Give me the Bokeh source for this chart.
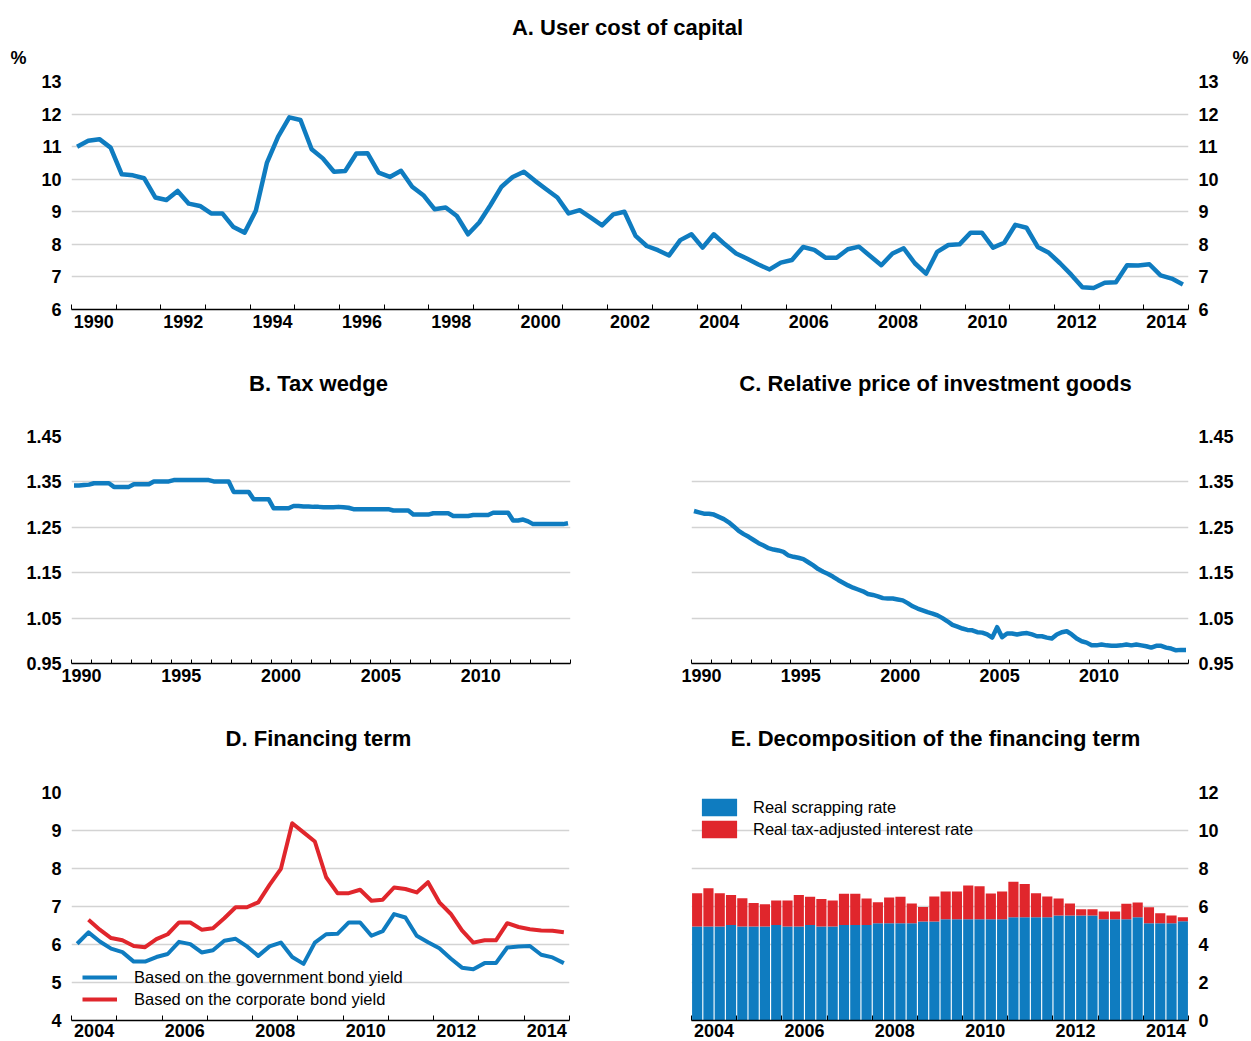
from bokeh.plotting import figure
from bokeh.models import (Range1d, FixedTicker, LinearAxis, Label, Legend, LegendItem,
                          PrintfTickFormatter)
from bokeh.layouts import column, row
from bokeh.embed import file_html
from bokeh.resources import INLINE

FONT = "Liberation Sans"
BLUE = "#0f7cc0"
RED = "#e0262c"
GRID = "#d3d3d3"

# ---------------- data ----------------
# A. User cost of capital, %, quarterly 1990Q1-2014Q4
A_user_cost = [
    11.00, 11.18, 11.23, 10.97,  10.15, 10.12, 10.03, 9.44,   9.36, 9.64, 9.25, 9.18,
    8.95, 8.95, 8.53, 8.36,      9.03, 10.51, 11.31, 11.90,   11.82, 10.92, 10.64, 10.23,
    10.25, 10.79, 10.80, 10.20,  10.07, 10.26, 9.77, 9.51,    9.08, 9.13, 8.87, 8.31,
    8.67, 9.20, 9.77, 10.07,     10.23, 9.95, 9.69, 9.44,     8.95, 9.05, 8.82, 8.58,
    8.92, 9.00, 8.26, 7.95,      7.82, 7.66, 8.13, 8.31,      7.90, 8.31, 8.00, 7.72,
    7.56, 7.38, 7.23, 7.44,      7.52, 7.92, 7.83, 7.59,      7.59, 7.85, 7.93, 7.64,
    7.36, 7.72, 7.88, 7.42,      7.10, 7.77, 7.98, 8.00,      8.36, 8.36, 7.90, 8.05,
    8.60, 8.51, 7.92, 7.74,      7.42, 7.07, 6.68, 6.66,      6.82, 6.84, 7.36, 7.35,
    7.39, 7.05, 6.95, 6.77,
]
A_start_year = 1990

# B. Tax wedge, quarterly 1990Q1-2014Q4
B_tax_wedge = [
    1.342, 1.342, 1.343, 1.344,  1.347, 1.347, 1.347, 1.347,  1.339, 1.339, 1.339, 1.339,
    1.345, 1.345, 1.345, 1.345,  1.351, 1.351, 1.351, 1.351,  1.354, 1.354, 1.354, 1.354,
    1.354, 1.354, 1.354, 1.354,  1.351, 1.351, 1.351, 1.351,  1.328, 1.328, 1.328, 1.328,
    1.312, 1.312, 1.312, 1.312,  1.292, 1.292, 1.292, 1.292,  1.297, 1.297, 1.296, 1.296,
    1.295, 1.295, 1.294, 1.294,  1.294, 1.295, 1.294, 1.293,  1.290, 1.290, 1.290, 1.290,
    1.290, 1.290, 1.290, 1.290,  1.287, 1.287, 1.287, 1.287,  1.278, 1.278, 1.278, 1.278,
    1.281, 1.281, 1.281, 1.281,  1.275, 1.275, 1.275, 1.275,  1.277, 1.277, 1.277, 1.277,
    1.282, 1.282, 1.282, 1.282,  1.265, 1.265, 1.267, 1.263,  1.257, 1.257, 1.257, 1.257,
    1.257, 1.257, 1.257, 1.259,
]

# C. Relative price of investment goods, quarterly 1990Q1-2014Q4
C_rel_price = [
    1.286, 1.283, 1.280, 1.280,  1.278, 1.273, 1.268, 1.261,  1.252, 1.242, 1.235, 1.229,
    1.222, 1.215, 1.210, 1.204,  1.201, 1.199, 1.196, 1.188,  1.185, 1.183, 1.180, 1.173,
    1.166, 1.158, 1.152, 1.147,  1.141, 1.134, 1.128, 1.122,  1.117, 1.113, 1.109, 1.103,
    1.101, 1.098, 1.094, 1.093,  1.093, 1.091, 1.089, 1.083,  1.076, 1.071, 1.067, 1.063,
    1.060, 1.056, 1.050, 1.043,  1.035, 1.031, 1.027, 1.024,  1.023, 1.019, 1.018, 1.014,
    1.007, 1.030, 1.008, 1.016,  1.016, 1.014, 1.016, 1.017,  1.014, 1.010, 1.010, 1.007,
    1.005, 1.014, 1.019, 1.021,  1.014, 1.005, 0.999, 0.996,  0.990, 0.990, 0.992, 0.990,
    0.989, 0.989, 0.990, 0.992,  0.990, 0.992, 0.990, 0.988,  0.985, 0.989, 0.989, 0.985,
    0.983, 0.979, 0.980, 0.980,
]

# D. Financing term, %, quarterly 2004Q1-2014Q4
D_start_year = 2004
D_gov = [
    6.02, 6.32, 6.08, 5.89,  5.80, 5.55, 5.55, 5.67,  5.75, 6.07, 6.01, 5.79,
    5.85, 6.10, 6.15, 5.95,  5.70, 5.95, 6.05, 5.67,  5.49, 6.05, 6.27, 6.28,
    6.58, 6.58, 6.23, 6.35,  6.80, 6.71, 6.23, 6.06,  5.90, 5.63, 5.39, 5.35,
    5.51, 5.51, 5.92, 5.95,  5.96, 5.73, 5.66, 5.51,
]
D_corp = [
    float("nan"), 6.65, 6.39, 6.17,  6.11, 5.96, 5.93, 6.14,  6.27, 6.58, 6.58, 6.39,
    6.43, 6.69, 6.98, 6.98,  7.11, 7.57, 7.99, 9.19,  8.95, 8.71, 7.77, 7.35,
    7.35, 7.44, 7.15, 7.18,  7.50, 7.46, 7.37, 7.64,  7.11, 6.81, 6.37, 6.05,
    6.11, 6.11, 6.56, 6.46,  6.40, 6.37, 6.36, 6.32,
]

# E. Decomposition of the financing term, quarterly 2004Q1-2014Q4
E_scrap = [
    4.95, 4.95, 4.95, 5.03,  4.95, 4.95, 4.95, 5.03,  4.95, 4.95, 5.03, 4.95,
    4.95, 5.03, 5.03, 5.03,  5.12, 5.12, 5.12, 5.12,  5.21, 5.21, 5.33, 5.33,
    5.33, 5.33, 5.33, 5.33,  5.44, 5.44, 5.44, 5.44,  5.53, 5.53, 5.53, 5.53,
    5.33, 5.33, 5.33, 5.44,  5.12, 5.12, 5.12, 5.23,
]
E_interest = [
    1.75, 2.01, 1.75, 1.57,  1.49, 1.23, 1.17, 1.29,  1.37, 1.65, 1.48, 1.45,
    1.37, 1.64, 1.64, 1.39,  1.11, 1.35, 1.39, 1.04,  0.77, 1.32, 1.46, 1.46,
    1.77, 1.74, 1.35, 1.46,  1.86, 1.74, 1.26, 1.09,  0.89, 0.63, 0.33, 0.33,
    0.41, 0.41, 0.81, 0.77,  0.84, 0.53, 0.41, 0.21,
]

A_xlabels = ["1990", "1992", "1994", "1996", "1998", "2000", "2002",
             "2004", "2006", "2008", "2010", "2012", "2014"]
BC_xlabels = ["1990", "1995", "2000", "2005", "2010"]
DE_xlabels = ["2004", "2006", "2008", "2010", "2012", "2014"]
A_yticks = [6, 7, 8, 9, 10, 11, 12, 13]
BC_yticks = [0.95, 1.05, 1.15, 1.25, 1.35, 1.45]
D_yticks = [4, 5, 6, 7, 8, 9, 10]
E_yticks = [0, 2, 4, 6, 8, 10, 12]

titles = ["A. User cost of capital", "B. Tax wedge",
          "C. Relative price of investment goods", "D. Financing term",
          "E. Decomposition of the financing term"]
unit_label = "%"


def qx(start, n):
    return [start + (i + 0.5) / 4 for i in range(n)]


# ---------------- layout constants (page pixels) ----------------
LB, RB = 71, 62          # left / right borders shared by every figure in the column
FULL_W = 1117            # frame width of the full-width rows


def make_fig(xr, yr, fw, fh, bl, br, bt, bb, yside):
    p = figure(frame_width=fw, frame_height=fh,
               x_range=Range1d(*xr), y_range=Range1d(*yr),
               x_axis_location="below", y_axis_location=yside,
               min_border_left=bl, min_border_right=br,
               min_border_top=bt, min_border_bottom=bb,
               output_backend="svg", toolbar_location=None)
    p.outline_line_color = None
    p.background_fill_color = "white"
    p.border_fill_color = "white"
    p.xgrid.visible = False
    p.ygrid.grid_line_color = GRID
    p.ygrid.grid_line_width = 1.5
    return p


def make_strip(top, h, with_axes=False):
    # data coordinates of the strip equal page pixel coordinates
    s = figure(frame_width=FULL_W, frame_height=h,
               x_range=Range1d(LB, LB + FULL_W), y_range=Range1d(top + h, top),
               x_axis_location=None, y_axis_location="left" if with_axes else None,
               min_border_left=LB, min_border_right=RB,
               min_border_top=0, min_border_bottom=0,
               output_backend="svg", toolbar_location=None)
    s.outline_line_color = None
    s.background_fill_color = "white"
    s.border_fill_color = "white"
    s.grid.visible = False
    return s


def style_xaxis(ax, labels, x0, x1, tick_len, standoff=5):
    ticks = [int(s) + 0.5 for s in labels]
    ax.ticker = FixedTicker(ticks=ticks, minor_ticks=list(range(x0, x1 + 1)))
    ax.major_label_overrides = {t: s for t, s in zip(ticks, labels)}
    ax.major_tick_in = 0
    ax.major_tick_out = 0
    ax.minor_tick_in = tick_len
    ax.minor_tick_out = 0
    ax.minor_tick_line_color = "black"
    ax.minor_tick_line_width = 1
    ax.axis_line_color = "black"
    ax.axis_line_width = 1.5
    ax.major_label_standoff = standoff
    ax.major_label_text_font = FONT
    ax.major_label_text_font_size = "18px"
    ax.major_label_text_font_style = "bold"
    ax.major_label_text_color = "black"


def style_yaxis(ax, ticks, fmt=None, standoff=10):
    ax.ticker = FixedTicker(ticks=ticks)
    ax.axis_line_color = None
    ax.major_tick_line_color = None
    ax.minor_tick_line_color = None
    ax.major_tick_in = 0
    ax.major_tick_out = 0
    ax.minor_tick_in = 0
    ax.minor_tick_out = 0
    ax.major_label_standoff = standoff
    ax.major_label_text_font = FONT
    ax.major_label_text_font_size = "18px"
    ax.major_label_text_font_style = "bold"
    ax.major_label_text_color = "black"
    if fmt:
        ax.formatter = PrintfTickFormatter(format=fmt)


def add_title(p, x, y, text):
    p.add_layout(Label(x=x, y=y, text=text, text_align="center", text_baseline="middle",
                       text_font=FONT, text_font_size="22px", text_font_style="bold",
                       text_color="black"))


# ---------------- title strips ----------------
stripA = make_strip(0, 69, with_axes=True)
add_title(stripA, 627, 27, titles[0])
# the "%" unit sits as a single labelled tick on each side of the top strip
unit_y = 57
style_yaxis(stripA.yaxis[0], [unit_y], standoff=45)
stripA.yaxis[0].major_label_overrides = {unit_y: unit_label}
ru = LinearAxis()
style_yaxis(ru, [unit_y], standoff=44)
ru.major_label_overrides = {unit_y: unit_label}
stripA.add_layout(ru, "right")

stripBC = make_strip(339, 85)
add_title(stripBC, 318, 383, titles[1])
add_title(stripBC, 935, 383, titles[2])

stripDE = make_strip(693, 87)
add_title(stripDE, 318, 738, titles[3])
add_title(stripDE, 935, 738, titles[4])

# ---------------- panel A ----------------
pA = make_fig((1990, 2015), (6, 13), FULL_W, 228, LB, RB, 12, 30, "left")
style_xaxis(pA.xaxis[0], A_xlabels, 1990, 2015, 5)
style_yaxis(pA.yaxis[0], A_yticks)
ra = LinearAxis()
style_yaxis(ra, A_yticks)
pA.add_layout(ra, "right")
pA.line(qx(A_start_year, len(A_user_cost)), A_user_cost, line_color=BLUE,
        line_width=4.5, line_join="round")

# ---------------- panel B ----------------
pB = make_fig((1990, 2015), (0.95, 1.45), 499, 227, LB, 60, 12, 30, "left")
style_xaxis(pB.xaxis[0], BC_xlabels, 1990, 2015, 4)
style_yaxis(pB.yaxis[0], BC_yticks, "%.2f")
pB.line(qx(A_start_year, len(B_tax_wedge)), B_tax_wedge, line_color=BLUE,
        line_width=4.5, line_join="round")

# ---------------- panel C ----------------
pC = make_fig((1990, 2015), (0.95, 1.45), 497, 227, 61, RB, 12, 30, "right")
style_xaxis(pC.xaxis[0], BC_xlabels, 1990, 2015, 4)
style_yaxis(pC.yaxis[0], BC_yticks, "%.2f")
pC.line(qx(A_start_year, len(C_rel_price)), C_rel_price, line_color=BLUE,
        line_width=4.5, line_join="round")

# ---------------- panel D ----------------
FH = 228
pD = make_fig((2004, 2015), (4, 10), 498, FH, LB, 61, 12, 20, "left")
style_xaxis(pD.xaxis[0], DE_xlabels, 2004, 2015, 5, standoff=3)
style_yaxis(pD.yaxis[0], D_yticks)
xd = qx(D_start_year, len(D_gov))
r_gov = pD.line(xd, D_gov, line_color=BLUE, line_width=4, line_join="round")
r_corp = pD.line(xd, D_corp, line_color=RED, line_width=4, line_join="round")
legD = Legend(items=[LegendItem(label="Based on the government bond yield", renderers=[r_gov]),
                     LegendItem(label="Based on the corporate bond yield", renderers=[r_corp])],
              location=(11, 10), orientation="vertical", padding=0, margin=0, spacing=0,
              glyph_width=35, glyph_height=22, label_height=22, label_standoff=17,
              label_text_font=FONT, label_text_font_size="16.5px", label_text_color="black",
              background_fill_alpha=0, border_line_alpha=0)
pD.add_layout(legD)

# ---------------- panel E ----------------
pE = make_fig((2004, 2015), (0, 12), 497, FH, 61, RB, 12, 20, "right")
style_xaxis(pE.xaxis[0], DE_xlabels, 2004, 2015, 5, standoff=3)
style_yaxis(pE.yaxis[0], E_yticks)
src = dict(x=qx(D_start_year, len(E_scrap)), scrap=E_scrap, interest=E_interest)
rs = pE.vbar_stack(["scrap", "interest"], x="x", width=0.225, source=src,
                   color=[BLUE, RED], line_width=0)
legE = Legend(items=[LegendItem(label="Real scrapping rate", renderers=[rs[0]]),
                     LegendItem(label="Real tax-adjusted interest rate", renderers=[rs[1]])],
              location=(6, FH - 48), orientation="vertical", padding=0, margin=0, spacing=0,
              glyph_width=44, glyph_height=22, label_height=22, label_standoff=12,
              label_text_font=FONT, label_text_font_size="16.5px", label_text_color="black",
              background_fill_alpha=0, border_line_alpha=0)
pE.add_layout(legE)

layout = column(stripA, pA, stripBC, row(pB, pC), stripDE, row(pD, pE))
open("out.html", "w").write(file_html(layout, INLINE))
